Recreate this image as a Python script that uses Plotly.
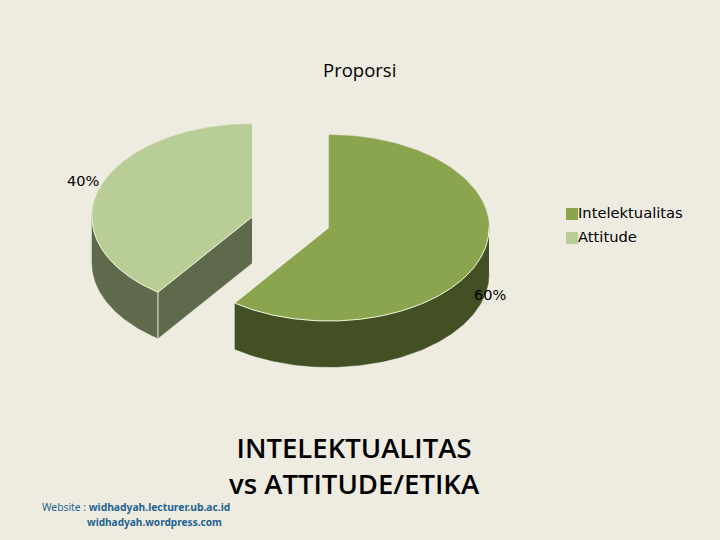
import numpy as np
import plotly.graph_objects as go

categories = ["Intelektualitas", "Attitude"]
shares = [60, 40]
top_colors = ["#8AA54E", "#B9CD96"]
side_colors = ["#435024", "#5E6A4B"]
chart_title = "Proporsi"
main_title = "INTELEKTUALITAS<br>vs ATTITUDE/ETIKA"
footer_1 = "Website : <b>widhadyah.lecturer.ub.ac.id</b>"
footer_2 = "<b>widhadyah.wordpress.com</b>"

BG = "#EEEBE0"
RX, RY, DEPTH = 160, 93, 46
CENTERS = [(329, 228), (252, 217)]
RIM = "#EDF2DF"


def arc(cx, cy, a0, a1):
    t = np.radians(np.linspace(a0, a1, 160))
    return cx + RX * np.sin(t), cy - RY * np.cos(t)


def poly(fig, x, y, color):
    fig.add_trace(go.Scatter(x=x, y=y, mode="lines", fill="toself", fillcolor=color,
                             line=dict(color=color, width=0.5), hoverinfo="skip", showlegend=False))


def rim(fig, x, y, width=1.2):
    fig.add_trace(go.Scatter(x=x, y=y, mode="lines", line=dict(color=RIM, width=width),
                             hoverinfo="skip", showlegend=False))


fig = go.Figure()
total = sum(shares)
ends = np.cumsum(shares) / total * 360
starts = np.concatenate([[0], ends[:-1]])

for i in (1, 0):
    cx, cy = CENTERS[i]
    a0, a1 = starts[i], ends[i]
    # outer wall: only the part of the rim facing the viewer (90..270 degrees)
    w0, w1 = max(a0, 90), min(a1, 270)
    ax, ay = arc(cx, cy, w0, w1)
    poly(fig, np.r_[ax, ax[::-1]], np.r_[ay, ay[::-1] + DEPTH], side_colors[i])
    # cut face, when the start edge of the slice faces the viewer
    if a0 > 90 and a0 < 270:
        ex, ey = arc(cx, cy, a0, a0)
        ex, ey = ex[0], ey[0]
        poly(fig, [cx, ex, ex, cx], [cy, ey, ey + DEPTH, cy + DEPTH], side_colors[i])
    # top face
    tx, ty = arc(cx, cy, a0, a1)
    poly(fig, np.r_[cx, tx], np.r_[cy, ty], top_colors[i])
    # light bevel
    rim(fig, ax, ay, 1)
    if a0 > 90 and a0 < 270:
        rim(fig, [cx, ex, ex], [cy, ey, ey + DEPTH], 1)

# legend swatches with labels
fig.add_trace(go.Scatter(
    x=[572, 572], y=[214, 238], mode="markers",
    marker=dict(symbol="square", size=12, color=top_colors),
    hoverinfo="skip", showlegend=False))
fig.add_trace(go.Scatter(
    x=[578, 578], y=[214, 238], mode="text",
    text=categories, textposition="middle right",
    textfont=dict(family="DejaVu Sans", size=14.7, color="#000000"),
    hoverinfo="skip", showlegend=False))

pct = [f"{round(s / total * 100)}%" for s in shares]
annotations = [
    dict(x=490, y=295, text=pct[0]),
    dict(x=83, y=181, text=pct[1]),
]
annotations = [dict(a, showarrow=False, xanchor="center", yanchor="middle",
                    font=dict(family="DejaVu Sans", size=14.5, color="#000000")) for a in annotations]
annotations += [
    dict(x=359, y=69, text=chart_title, showarrow=False, xanchor="center", yanchor="middle",
         font=dict(family="Open Sans", size=18.5, color="#000000")),
    dict(x=354, y=465, text=main_title, showarrow=False, xanchor="center", yanchor="middle",
         align="center", font=dict(family="Open Sans", size=27.5, weight=600, color="#000000")),
    dict(x=40, y=507, text=footer_1, showarrow=False, xanchor="left", yanchor="middle",
         font=dict(family="Noto Sans", size=10.3, color="#1F6391")),
    dict(x=85, y=522, text=footer_2, showarrow=False, xanchor="left", yanchor="middle",
         font=dict(family="Noto Sans", size=10.1, color="#1F6391")),
]

fig.update_layout(
    width=720, height=540, margin=dict(l=0, r=0, t=0, b=0),
    paper_bgcolor=BG, plot_bgcolor=BG, showlegend=False, annotations=annotations,
    xaxis=dict(range=[0, 720], visible=False, fixedrange=True),
    yaxis=dict(range=[540, 0], visible=False, fixedrange=True),
)
fig.write_html("out.html", config=dict(displayModeBar=False),
               post_script="document.body.style.margin='0';document.body.style.background='#EEEBE0';")
